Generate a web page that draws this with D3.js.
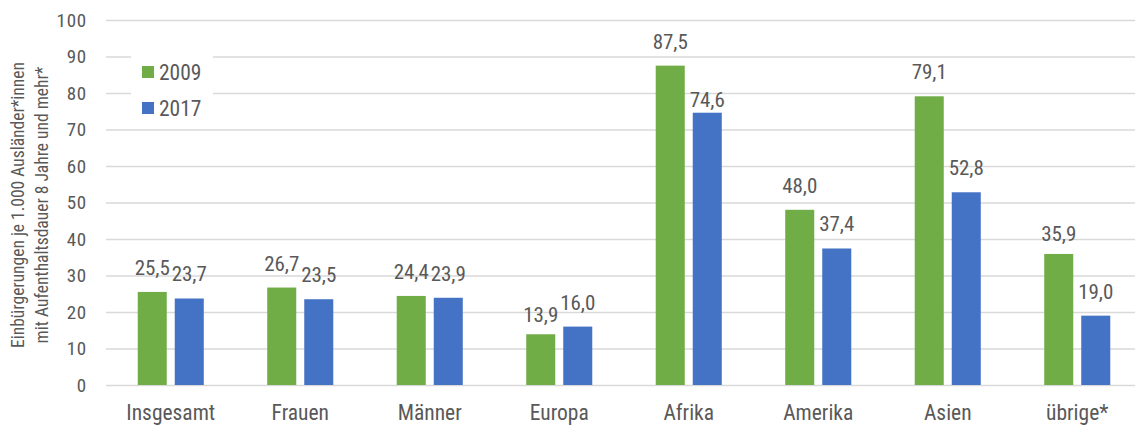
<!DOCTYPE html>
<html lang="de">
<head>
<meta charset="utf-8">
<script src="https://cdn.jsdelivr.net/npm/d3@7"></script>
<style>
  html, body { margin: 0; padding: 0; background: #fff; }
  svg { display: block; font-family: "Roboto Condensed", "Liberation Sans Narrow", "DejaVu Sans Condensed", "Open Sans", sans-serif; }
  .grid line { stroke: #d9d9d9; stroke-width: 1.5; }
  .grid .domain { display: none; }
  text { fill: #595959; }
</style>
</head>
<body>
<svg id="chart" width="1135" height="425"></svg>
<script>
// Einbürgerungen je 1.000 Ausländer*innen mit Aufenthaltsdauer 8 Jahre und mehr
const categories = ["Insgesamt", "Frauen", "Männer", "Europa", "Afrika", "Amerika", "Asien", "übrige*"];
const seriesNames = ["2009", "2017"];
const values2009 = [25.5, 26.7, 24.4, 13.9, 87.5, 48.0, 79.1, 35.9];
const values2017 = [23.7, 23.5, 23.9, 16.0, 74.6, 37.4, 52.8, 19.0];
const yTicks = [0, 10, 20, 30, 40, 50, 60, 70, 80, 90, 100];
const colors = ["#70ad47", "#4472c4"];

const svg = d3.select("#chart");
const plotLeft = 106, plotRight = 1142, plotTop = 20, plotBottom = 385;

const y = d3.scaleLinear().domain([0, 100]).range([plotBottom, plotTop]);
const x0 = d3.scaleBand().domain(categories).range([plotLeft, plotRight])
  .paddingInner(0.49).paddingOuter(0.245);
const x1 = d3.scaleBand().domain(seriesNames).range([0, x0.bandwidth()])
  .paddingInner(0.216);
const color = d3.scaleOrdinal().domain(seriesNames).range(colors);

// horizontal gridlines
svg.append("g").attr("class", "grid")
  .attr("transform", `translate(${plotLeft},0)`)
  .call(d3.axisRight(y).tickValues(yTicks).tickSize(plotRight - plotLeft).tickFormat(""))
  .call(g => g.selectAll(".tick text").remove());

// y tick labels
svg.append("g")
  .attr("transform", `translate(${plotLeft},0)`)
  .call(d3.axisLeft(y).tickValues(yTicks).tickSize(0).tickPadding(19).tickFormat(d3.format("d")))
  .call(g => g.attr("font-family", null).attr("font-size", null))
  .call(g => g.select(".domain").remove())
  .call(g => g.selectAll("text").attr("font-size", 19).attr("letter-spacing", 0.8).attr("fill", "#595959"));

// y axis title (two lines)
const title = svg.append("text")
  .attr("transform", "translate(0,205) rotate(-90)")
  .attr("text-anchor", "middle")
  .attr("font-size", 17.5);
title.append("tspan").attr("x", 0).attr("y", 24).text("Einbürgerungen je 1.000 Ausländer*innen");
title.append("tspan").attr("x", 0).attr("y", 48).text("mit Aufenthaltsdauer 8 Jahre und mehr*");

// bars
const rows = categories.map((c, i) => ({ category: c, values: [values2009[i], values2017[i]] }));
const groups = svg.append("g").selectAll("g").data(rows).join("g")
  .attr("transform", d => `translate(${x0(d.category)},0)`);

const items = groups.selectAll("g")
  .data(d => seriesNames.map((s, j) => ({ category: d.category, series: s, value: d.values[j] })))
  .join("g");

items.append("rect")
  .attr("x", d => x1(d.series))
  .attr("width", x1.bandwidth())
  .attr("y", d => y(d.value))
  .attr("height", d => y(0) - y(d.value))
  .attr("fill", d => color(d.series));

// value labels sit above each bar; a few were pulled down closer to their bar
const labelShift = { "Europa|2009": 5, "Afrika|2017": 11, "übrige*|2009": 4 };
const fmt = v => v.toFixed(1).replace(".", ",");
items.append("text")
  .attr("x", d => x1(d.series) + x1.bandwidth() / 2)
  .attr("y", d => y(d.value) - 17 + (labelShift[d.category + "|" + d.series] || 0))
  .attr("text-anchor", "middle")
  .attr("font-size", 21)
  .text(d => fmt(d.value));

// category labels
svg.append("g")
  .attr("transform", `translate(0,${plotBottom})`)
  .call(d3.axisBottom(x0).tickSize(0).tickPadding(20))
  .call(g => g.attr("font-family", null).attr("font-size", null))
  .call(g => g.select(".domain").remove())
  .call(g => g.selectAll("text").attr("font-size", 21.5).attr("fill", "#595959"));

// legend
const legend = svg.append("g");
legend.append("rect").attr("x", 131).attr("y", 52).attr("width", 82).attr("height", 72).attr("fill", "#fff");
const li = legend.selectAll("g").data(seriesNames).join("g")
  .attr("transform", (d, i) => `translate(142,${72 + i * 36})`);
li.append("rect").attr("x", 0).attr("y", -6).attr("width", 12).attr("height", 12).attr("fill", d => color(d));
li.append("text").attr("x", 17).attr("dy", "0.35em").attr("font-size", 21.5).text(d => d);
</script>
</body>
</html>
